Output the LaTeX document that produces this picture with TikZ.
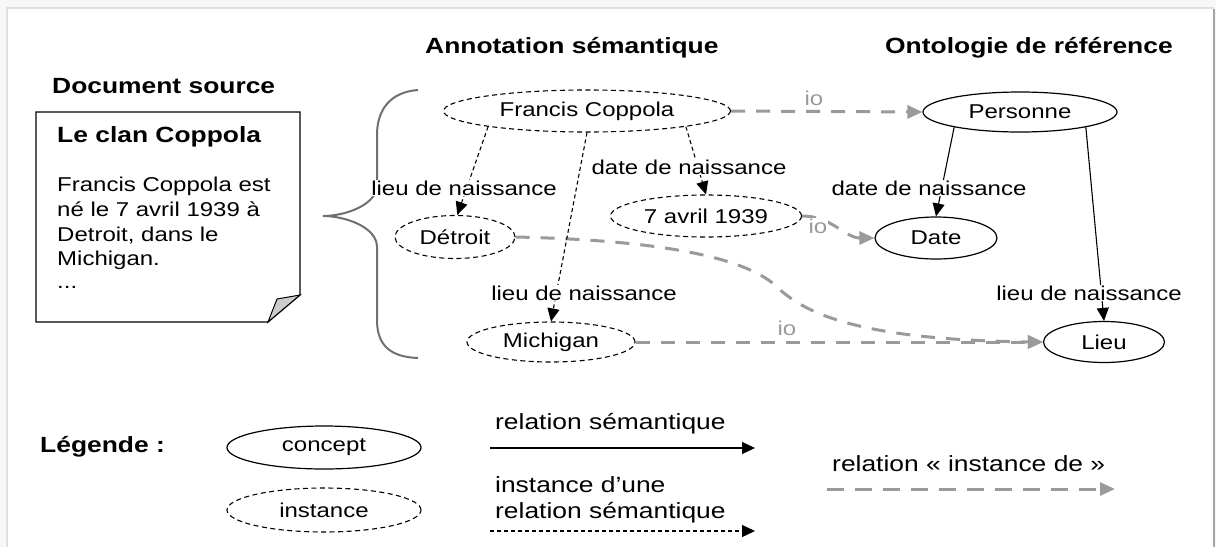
\documentclass[tikz,border=0pt]{standalone}
\usepackage{fontspec}
\setmainfont{Liberation Sans}[FakeStretch=1.2]
\usetikzlibrary{arrows.meta,shapes.geometric}
\newcommand\fsN{\fontsize{20pt}{24pt}\selectfont}
\newcommand\fsL{\fontsize{22pt}{26pt}\selectfont}
\definecolor{ioGray}{HTML}{9A9A9A}
\definecolor{braceGray}{HTML}{707070}
\tikzset{
  inst/.style={ellipse, draw, dash pattern=on 5pt off 3.5pt, line width=1.1pt, inner sep=0pt, font=\fsN},
  conc/.style={ellipse, draw, line width=1.2pt, inner sep=0pt, font=\fsN},
  semrel/.style={draw, line width=1.1pt, -{Triangle[length=13pt,width=12pt]}},
  instrel/.style={semrel, dash pattern=on 4pt off 3pt},
  iorel/.style={draw=ioGray, line width=3pt, dash pattern=on 14pt off 11pt, -{Triangle[length=15pt,width=13pt]}},
  rellabel/.style={font=\fsN, fill=white, inner sep=1pt},
  iolabel/.style={font=\fsN, text=ioGray, inner sep=1pt},
  txt/.style={inner sep=0pt, anchor=base west},
}
\begin{document}
\begin{tikzpicture}[x=1pt,y=-1pt]
\useasboundingbox (0,0) rectangle (1216,547);
% page frame
\fill[gray!6] (0,0) rectangle (1216,547);
\fill[white] (7,8) rectangle (1214,547);
\draw[gray!25, line width=1.2pt] (7,547) -- (7,8) -- (1214,8);
\draw[gray!70, line width=1.5pt] (1214,9) -- (1214,547);

% column headings
\node[txt, font=\fsL\bfseries] (hdoc) at (52,93) {Document source};
\node[txt, font=\fsL\bfseries] (hann) at (425,53) {Annotation sémantique};
\node[txt, font=\fsL\bfseries] (hont) at (885,53) {Ontologie de référence};

% source document sheet with folded corner
\draw[line width=1.2pt] (36,112) -- (300,112) -- (300,295) -- (268,322) -- (36,322) -- cycle;
\filldraw[fill=gray!40, line width=1pt] (300,295) -- (277,299) -- (268,322) -- cycle;
\node[txt, font=\fsL\bfseries] (dtitle) at (57,142) {Le clan Coppola};
\node[txt, font=\fsN] (dl1) at (57,191) {Francis Coppola est};
\node[txt, font=\fsN] (dl2) at (57,216) {né le 7 avril 1939 à};
\node[txt, font=\fsN] (dl3) at (57,241) {Detroit, dans le};
\node[txt, font=\fsN] (dl4) at (57,265) {Michigan.};
\node[txt, font=\fsN] (dl5) at (57,288) {...};

% brace
\draw[braceGray, line width=2pt]
  (418,90) .. controls (390,92) and (377,110) .. (377,135) -- (377,185)
  .. controls (377,205) and (345,216) .. (323,216)
  .. controls (345,216) and (377,227) .. (377,247) -- (377,320)
  .. controls (377,345) and (390,357) .. (418,358);

% instances
\node[inst, minimum width=287pt, minimum height=42pt] (fc) at (587,111) {Francis Coppola};
\node[inst, minimum width=120pt, minimum height=43pt] (det) at (455,237) {Détroit};
\node[inst, minimum width=191pt, minimum height=42pt] (av) at (706,216) {7 avril 1939};
\node[inst, minimum width=168pt, minimum height=40pt] (mich) at (551,342) {Michigan};

% concepts
\node[conc, minimum width=194pt, minimum height=40pt] (pers) at (1020,112) {Personne};
\node[conc, minimum width=122pt, minimum height=42pt] (date) at (936,238) {Date};
\node[conc, minimum width=121pt, minimum height=41pt] (lieu) at (1104,342) {Lieu};

% instance-of relations
\draw[iorel] (fc.east) -- (pers.west);
\draw[iorel] (av.east) to[out=0, in=180] (date.west);
\draw[iorel] (det.east) .. controls (650,240) and (740,255) .. (775,285)
  .. controls (800,310) and (850,340) .. (lieu.west);
\draw[iorel] (mich.east) -- (lieu.west);
\node[iolabel] (io1) at (814,98) {io};
\node[iolabel, fill=white] (io2) at (818,226) {io};
\node[iolabel] (io3) at (787,328) {io};

% semantic relations between instances
\draw[instrel] (fc.189) -- (det.84);
\draw[instrel] (fc.south) -- (mich.north);
\draw[instrel] (fc.351) -- (av.north);
% semantic relations between concepts
\draw[semrel] (pers.193) -- (date.north);
\draw[semrel] (pers.347) -- (lieu.north);

\node[rellabel] (r1) at (464,188) {lieu de naissance};
\node[rellabel] (r2) at (584,293) {lieu de naissance};
\node[rellabel] (r3) at (689,167) {date de naissance};
\node[rellabel] (r4) at (929,188) {date de naissance};
\node[rellabel] (r5) at (1089,293) {lieu de naissance};

% legend
\node[txt, font=\fsL\bfseries] (leg) at (40,452) {Légende :};
\node[conc, minimum width=194pt, minimum height=43pt] (lconc) at (324,447.5) {concept};
\node[inst, minimum width=194pt, minimum height=44pt] (linst) at (324,510) {instance};
\node[txt, font=\fsL] (lsem) at (495,429) {relation sémantique};
\coordinate (ls1) at (490,448);
\coordinate (ls2) at (755,448);
\draw[semrel] (ls1) -- (ls2);
\node[txt, font=\fsL] (linsA) at (495,492) {instance d'une};
\node[txt, font=\fsL] (linsB) at (495,518) {relation sémantique};
\coordinate (li1) at (490,531);
\coordinate (li2) at (755,531);
\draw[instrel] (li1) -- (li2);
\node[txt, font=\fsL] (lio) at (832,471) {relation « instance de »};
\coordinate (lo1) at (827,489);
\coordinate (lo2) at (1115,489);
\draw[iorel, dash pattern=on 17pt off 11pt] (lo1) -- (lo2);
\end{tikzpicture}
\end{document}
